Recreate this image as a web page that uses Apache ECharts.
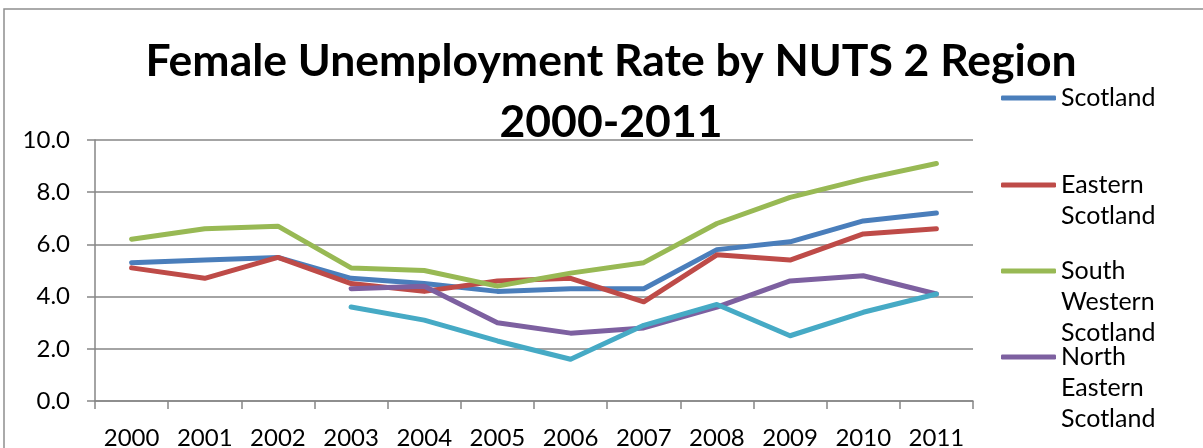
<!DOCTYPE html>
<html>
<head>
<meta charset="utf-8">
<script src="https://cdn.jsdelivr.net/npm/echarts@6/dist/echarts.min.js"></script>
<style>
  html, body { margin: 0; padding: 0; background: #ffffff; }
  #chart { width: 1203px; height: 448px; }
</style>
</head>
<body>
<div id="chart"></div>
<script>
// Female unemployment rate (%) by NUTS 2 region, 2000-2011
const years = ['2000', '2001', '2002', '2003', '2004', '2005', '2006', '2007', '2008', '2009', '2010', '2011'];
const scotland            = [5.3, 5.4, 5.5, 4.7, 4.5, 4.2, 4.3, 4.3, 5.8, 6.1, 6.9, 7.2];
const easternScotland     = [5.1, 4.7, 5.5, 4.5, 4.2, 4.6, 4.7, 3.8, 5.6, 5.4, 6.4, 6.6];
const southWesternScotland= [6.2, 6.6, 6.7, 5.1, 5.0, 4.4, 4.9, 5.3, 6.8, 7.8, 8.5, 9.1];
const northEasternScotland= [null, null, null, 4.3, 4.4, 3.0, 2.6, 2.8, 3.6, 4.6, 4.8, 4.1];
const highlandsIslands    = [null, null, null, 3.6, 3.1, 2.3, 1.6, 2.9, 3.7, 2.5, 3.4, 4.1];

const seriesNames = ['Scotland', 'Eastern Scotland', 'South Western Scotland', 'North Eastern Scotland', 'Highlands and Islands'];
const seriesValues = [scotland, easternScotland, southWesternScotland, northEasternScotland, highlandsIslands];
const seriesColors = ['#4A7EBB', '#BE4B48', '#98B954', '#7D60A0', '#46AAC5'];

const FONT = 'Lato, "Open Sans", sans-serif';
const LINE_H = 31;

// One legend block per region; blank leading lines keep the marker level
// with the first wrapped line of the name
const legendIconY = [98, 185, 271, 357];
const legends = legendIconY.map((iconY, i) => {
  const lines = seriesNames[i].split(' ').length;
  const blockH = (2 * lines - 1) * LINE_H;
  return {
    data: [seriesNames[i]],
    orient: 'vertical',
    left: 1001,
    top: iconY - blockH / 2,
    padding: 0,
    icon: 'roundRect',
    itemWidth: 55,
    itemHeight: 5,
    selectedMode: false,
    formatter: name => '\n'.repeat(lines - 1) + name.split(' ').join('\n'),
    textStyle: {
      fontFamily: FONT,
      fontSize: 25,
      color: '#000',
      lineHeight: LINE_H
    }
  };
});

const chart = echarts.init(document.getElementById('chart'), null, { renderer: 'canvas' });

chart.setOption({
  backgroundColor: '#ffffff',
  animation: false,
  title: {
    text: 'Female Unemployment Rate by NUTS 2 Region\n2000-2011',
    left: 611,
    textAlign: 'center',
    top: 31,
    padding: 0,
    textStyle: {
      fontFamily: FONT,
      fontWeight: 'bold',
      fontSize: 44.5,
      lineHeight: 61,
      color: '#000'
    }
  },
  legend: legends,
  graphic: [{
    type: 'rect',
    shape: { x: 4, y: 9, width: 1400, height: 600 },
    style: { fill: 'none', stroke: '#8f8f8f', lineWidth: 1.5 },
    silent: true,
    z: -1
  }],
  grid: { left: 95, right: 230, top: 140, bottom: 47, containLabel: false, outerBoundsMode: 'none' },
  xAxis: {
    type: 'category',
    data: years,
    boundaryGap: true,
    axisLine: { lineStyle: { color: '#868686', width: 1.5 } },
    axisTick: { show: true, length: 8, lineStyle: { color: '#868686', width: 1.5 } },
    axisLabel: { color: '#000', fontFamily: FONT, fontSize: 24, margin: 25 },
    splitLine: { show: false }
  },
  yAxis: {
    type: 'value',
    min: 0,
    max: 10,
    interval: 2,
    axisLine: { show: true, lineStyle: { color: '#868686', width: 1.5 } },
    axisTick: { show: true, length: 8, lineStyle: { color: '#868686', width: 1.5 } },
    axisLabel: { color: '#000', fontFamily: FONT, fontSize: 24, margin: 25, formatter: v => v.toFixed(1) },
    splitLine: { lineStyle: { color: '#868686', width: 1.5 } }
  },
  series: seriesNames.map((name, i) => ({
    name: name,
    type: 'line',
    data: seriesValues[i],
    showSymbol: false,
    symbol: 'none',
    color: seriesColors[i],
    lineStyle: { width: 5, color: seriesColors[i], cap: 'round', join: 'round' },
    emphasis: { disabled: true }
  }))
});
</script>
</body>
</html>
